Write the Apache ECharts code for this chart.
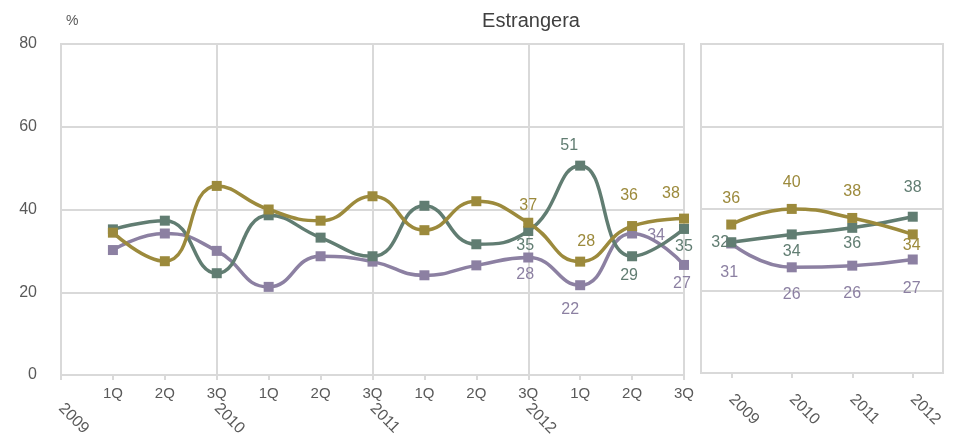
<!DOCTYPE html>
<html>
<head>
<meta charset="utf-8">
<script src="https://cdn.jsdelivr.net/npm/echarts@6/dist/echarts.min.js"></script>
<style>html,body{margin:0;padding:0;background:#fff}#c{width:962px;height:442px}</style>
</head>
<body>
<div id="c"></div>
<script>
// ---- data ----
const quarterLabels = ['1Q','2Q','3Q','1Q','2Q','3Q','1Q','2Q','3Q','1Q','2Q','3Q'];
const yearLabels = ['2009','2010','2011','2012'];
const yTicks = [0, 20, 40, 60, 80];
const seriesNames = ['S1','S2','S3'];
// quarterly (left panel)
const qGreen  = [35.2, 37.3, 24.6, 38.6, 33.2, 28.7, 40.9, 31.6, 34.8, 50.6, 28.7, 35.3];
const qGold   = [34.4, 27.5, 45.7, 40.0, 37.3, 43.2, 35.0, 42.0, 36.8, 27.4, 36.0, 37.8];
const qPurple = [30.2, 34.2, 30.0, 21.3, 28.7, 27.4, 24.1, 26.5, 28.4, 21.7, 34.2, 26.6];
const qGreenLbl  = ['', '', '', '', '', '', '', '', '35', '51', '29', '35'];
const qGoldLbl   = ['', '', '', '', '', '', '', '', '37', '28', '36', '38'];
const qPurpleLbl = ['', '', '', '', '', '', '', '', '28', '22', '34', '27'];
// annual (right panel)
const aGreen  = [31.8, 33.7, 35.3, 38.0];
const aGold   = [36.1, 39.9, 37.7, 33.7];
const aPurple = [31.5, 25.7, 26.1, 27.6];
const aGreenLbl  = ['32', '34', '36', '38'];
const aGoldLbl   = ['36', '40', '38', '34'];
const aPurpleLbl = ['31', '26', '26', '27'];

// ---- styling / layout ----
const C = {green:'#617d72', gold:'#9c8a3c', purple:'#8c80a2'};
const GRID = '#d9d9d9';
const TXT = '#595959';
const FONT = '"Liberation Sans", Arial, sans-serif';
// label offsets (pixels, relative to point) for the labelled points
const qOff = {
  green:  [null,null,null,null,null,null,null,null,[-3,15],[-11,-20],[-3,19],[0,18]],
  gold:   [null,null,null,null,null,null,null,null,[0,-17],[6,-20],[-3,-30],[-13,-25]],
  purple: [null,null,null,null,null,null,null,null,[-3,17],[-10,24],[24,2],[-2,19]]
};
const aOff = {
  green:  [[-11,0],[0,17],[0,16],[0,-29]],
  gold:   [[0,-26],[0,-26],[0,-26],[-1,11]],
  purple: [[-2,29],[0,27],[0,28],[-1,29]]
};

const cats13 = [''].concat(quarterLabels);
const yearCats13 = cats13.map((c, i) => (i % 3 === 0 && i / 3 < yearLabels.length) ? yearLabels[i / 3] : '');

function buildData(vals, labels, offs, shift) {
  return vals.map((v, i) => {
    const item = {value: [i + shift, v]};
    if (labels[i]) {
      item.label = {show: true, position: 'inside', offset: offs[i], formatter: labels[i]};
    } else {
      item.label = {show: false};
    }
    return item;
  });
}

function mkSeries(name, color, vals, labels, offs, xi, yi, shift) {
  return {
    name: name, type: 'line', xAxisIndex: xi, yAxisIndex: yi,
    smooth: 0.5, symbol: 'rect', symbolSize: 10,
    lineStyle: {color: color, width: 3.5},
    itemStyle: {color: color},
    label: {color: color, fontSize: 16, fontFamily: FONT},
    data: buildData(vals, labels, offs, shift),
    animation: false
  };
}

const yAxisCommon = {
  type: 'value', min: yTicks[0], max: yTicks[yTicks.length - 1], interval: yTicks[1] - yTicks[0],
  axisLine: {show: false}, axisTick: {show: false},
  splitLine: {show: true, lineStyle: {color: GRID, width: 2}}
};

const option = {
  animation: false,
  backgroundColor: '#ffffff',
  title: {
    text: 'Estrangera', left: 526, top: 6, textAlign: 'center',
    textStyle: {color: '#404040', fontSize: 20, fontWeight: 'normal', fontFamily: FONT}
  },
  graphic: [{
    type: 'text', left: 66, top: 14,
    style: {text: '%', fill: TXT, fontSize: 14, fontFamily: FONT}
  }],
  grid: [
    {left: 61, right: 278, top: 44, bottom: 67, show: true, borderColor: GRID, borderWidth: 2, backgroundColor: 'transparent'},
    {left: 701, right: 19, top: 44, bottom: 69, show: true, borderColor: GRID, borderWidth: 2, backgroundColor: 'transparent'}
  ],
  xAxis: [
    {
      type: 'category', gridIndex: 0, data: cats13, boundaryGap: false, position: 'bottom',
      axisLine: {show: true, lineStyle: {color: GRID, width: 2}},
      axisTick: {show: true, length: 5, interval: 0, lineStyle: {color: GRID, width: 2}},
      axisLabel: {interval: 0, color: TXT, fontSize: 15, fontFamily: FONT, margin: 11},
      splitLine: {show: true, interval: (i) => i % 3 === 0, lineStyle: {color: GRID, width: 2}}
    },
    {
      type: 'category', gridIndex: 0, data: yearCats13, boundaryGap: false, position: 'bottom', offset: 0,
      axisLine: {show: false}, axisTick: {show: false}, splitLine: {show: false},
      axisLabel: {interval: 0, rotate: -45, color: TXT, fontSize: 16, fontFamily: FONT, margin: 31}
    },
    {
      type: 'category', gridIndex: 1, data: yearLabels, boundaryGap: true, position: 'bottom',
      axisLine: {show: true, lineStyle: {color: GRID, width: 2}},
      axisTick: {show: true, length: 5, alignWithLabel: true, lineStyle: {color: GRID, width: 2}},
      axisLabel: {interval: 0, rotate: -45, color: TXT, fontSize: 16, fontFamily: FONT, margin: 24},
      splitLine: {show: false}
    }
  ],
  yAxis: [
    Object.assign({}, yAxisCommon, {gridIndex: 0,
      axisLabel: {show: true, color: TXT, fontSize: 16, fontFamily: FONT, margin: 24}}),
    Object.assign({}, yAxisCommon, {gridIndex: 1, axisLabel: {show: false}})
  ],
  series: [
    mkSeries(seriesNames[2], C.purple, qPurple, qPurpleLbl, qOff.purple, 0, 0, 1),
    mkSeries(seriesNames[0], C.green,  qGreen,  qGreenLbl,  qOff.green,  0, 0, 1),
    mkSeries(seriesNames[1], C.gold,   qGold,   qGoldLbl,   qOff.gold,   0, 0, 1),
    mkSeries(seriesNames[2], C.purple, aPurple, aPurpleLbl, aOff.purple, 2, 1, 0),
    mkSeries(seriesNames[0], C.green,  aGreen,  aGreenLbl,  aOff.green,  2, 1, 0),
    mkSeries(seriesNames[1], C.gold,   aGold,   aGoldLbl,   aOff.gold,   2, 1, 0)
  ]
};

const chart = echarts.init(document.getElementById('c'), null, {renderer: 'canvas'});
chart.setOption(option);
</script>
</body>
</html>
